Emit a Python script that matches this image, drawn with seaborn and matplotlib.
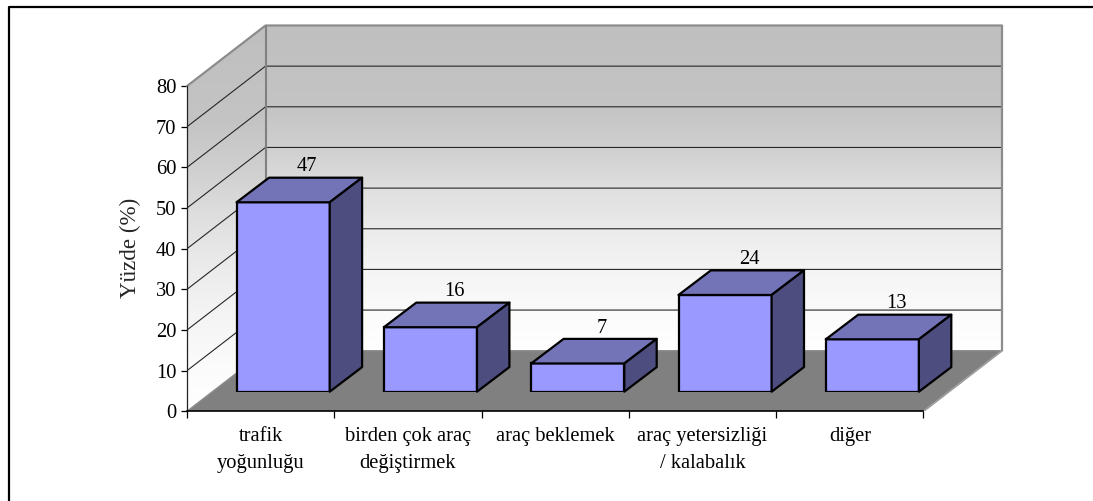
import numpy as np
import pandas as pd
import matplotlib
matplotlib.use("Agg")
import matplotlib.pyplot as plt
from matplotlib.lines import Line2D
from matplotlib.patches import Polygon
from matplotlib.colors import LinearSegmentedColormap
import seaborn as sns

categories = ["trafik\nyoğunluğu", "birden çok araç\ndeğiştirmek", "araç beklemek",
              "araç yetersizliği\n/ kalabalık", "diğer"]
values = [47, 16, 7, 24, 13]
value_ticks = [0, 10, 20, 30, 40, 50, 60, 70, 80]
y_label = "Yüzde (%)"

sns.set_theme(style="white")
plt.rcParams["font.family"] = ["Liberation Serif", "DejaVu Sans"]
plt.rcParams["text.color"] = "black"
plt.rcParams["xtick.color"] = "black"
plt.rcParams["ytick.color"] = "black"

W, H = 1093, 501
FS = 14.8
fig = plt.figure(figsize=(W / 100, H / 100), dpi=100, facecolor="white")

# pixel geometry of the frame
L, R, T, B = 187.0, 1002.0, 25.5, 411.3
cat_px = 147.3
unit_px = 4.06
wall_dx = (R - L) - 5 * cat_px
wall_dy_px = 60.5
dx = wall_dx / cat_px
dy = wall_dy_px / unit_px

ax = fig.add_axes([L / W, 1 - B / H, (R - L) / W, (B - T) / H])
ax.set_xlim(0, 5 + dx)
ax.set_ylim(0, 80 + dy)
ax.patch.set_alpha(0)

# walls and floor
cmap = LinearSegmentedColormap.from_list("wall", [
    (0.0, "#BFBFBF"), (0.25, "#C4C4C4"), (0.38, "#D0D0D0"), (0.5, "#DFDFDF"),
    (0.63, "#EBEBEB"), (0.75, "#F4F4F4"), (0.88, "#FBFBFB"), (1.0, "#FFFFFF")])
grad = np.linspace(0, 1, 256).reshape(-1, 1)
back = Polygon([(dx, dy), (5 + dx, dy), (5 + dx, 80 + dy), (dx, 80 + dy)], closed=True,
               fc="none", ec="none", transform=ax.transData)
side = Polygon([(0, 0), (dx, dy), (dx, 80 + dy), (0, 80)], closed=True,
               fc="none", ec="none", transform=ax.transData)
ax.add_patch(back)
ax.add_patch(side)
im_b = ax.imshow(grad, cmap=cmap, aspect="auto", extent=(dx, 5 + dx, dy, 80 + dy), origin="upper", zorder=1)
im_b.set_clip_path(back)
im_s = ax.imshow(grad, cmap=cmap, aspect="auto", extent=(0, dx, 0, 80 + dy), origin="upper", zorder=1)
im_s.set_clip_path(side)
ax.set_xlim(0, 5 + dx)
ax.set_ylim(0, 80 + dy)

ax.add_patch(Polygon([(0, 0), (5, 0), (5 + dx, dy), (dx, dy)], closed=True,
                     fc="#808080", ec="#8C8C8C", lw=1.0, zorder=2))

for v in value_ticks[1:-1]:
    ax.plot([0, dx, 5 + dx], [v, v + dy, v + dy], color="#262626", lw=0.8, zorder=3)
ax.plot([0, dx, 5 + dx, 5 + dx], [80, 80 + dy, 80 + dy, dy], color="#8C8C8C", lw=1.6, zorder=3, clip_on=False)
ax.plot([dx, dx], [dy, 80 + dy], color="#808080", lw=1.5, zorder=3)
ax.plot([5 + dx, 5], [dy, 0], color="#A0A0A0", lw=1.2, zorder=3)

for s in ["top", "right"]:
    ax.spines[s].set_visible(False)
ax.spines["left"].set_bounds(0, 80)
ax.spines["bottom"].set_bounds(0, 5)
ax.spines["left"].set_color("#222222")
ax.spines["left"].set_linewidth(0.9)
ax.spines["bottom"].set_color("black")
ax.spines["bottom"].set_linewidth(1.2)
ax.spines["left"].set_zorder(6)
ax.spines["bottom"].set_zorder(6)

ax.set_yticks(value_ticks)
ax.set_yticklabels([str(v) for v in value_ticks], fontsize=FS)
ax.set_xticks(range(6))
ax.set_xticklabels([""] * 6)
ax.set_xticks(np.arange(5) + 0.5, minor=True)
ax.set_xticklabels(categories, minor=True, fontsize=FS, linespacing=1.56, va="top")
ax.tick_params(axis="y", which="major", length=4, width=0.9, left=True, pad=3.5)
ax.tick_params(axis="x", which="major", length=5, width=0.9, bottom=True)
ax.tick_params(axis="x", which="minor", length=0, pad=11.5)
ax.set_ylabel(y_label, fontsize=16.6, va="center")
ax.yaxis.set_label_coords((130 - L) / (R - L), (B - 248) / (B - T))

# bars: same scales, moved into the depth of the floor
bar_dx, bar_dy = 22.5, 19.6
bar_unit_px = 4.03
bx = fig.add_axes([(L + bar_dx) / W, 1 - (B - bar_dy) / H, (R - L) / W, (B - T) / H], zorder=5)
bx.patch.set_alpha(0)
df = pd.DataFrame({"kategori": categories, "yuzde": values})
sns.barplot(data=df, x="kategori", y="yuzde", ax=bx, color="#9999FF", saturation=1,
            width=0.632, edgecolor="black", linewidth=1.6, errorbar=None, zorder=4)
bx.set_xlim(-0.5, 4.5 + dx)
bx.set_ylim(0, (B - T) / bar_unit_px)
bx.axis("off")

off_x = 32.4 / cat_px
off_y = 24.6 / bar_unit_px
for bar, val in zip(bx.patches, values):
    x0, x1 = bar.get_x(), bar.get_x() + bar.get_width()
    bx.add_patch(Polygon([(x0, val), (x1, val), (x1 + off_x, val + off_y), (x0 + off_x, val + off_y)],
                         closed=True, fc="#7373B8", ec="black", lw=1.6, joinstyle="round", zorder=4, clip_on=False))
    bx.add_patch(Polygon([(x1, 0), (x1 + off_x, off_y), (x1 + off_x, val + off_y), (x1, val)],
                         closed=True, fc="#4D4D80", ec="black", lw=1.6, joinstyle="round", zorder=4, clip_on=False))
    bx.annotate(str(val), xy=((x0 + x1) / 2 + off_x, val + off_y), xytext=(-6, 1),
                textcoords="offset points", ha="center", va="bottom", fontsize=FS, zorder=7)

# chart-area border
fig.add_artist(Line2D([9 / W, 9 / W, 1], [0, 1 - 7 / H, 1 - 7 / H], color="black", lw=1.6,
                      transform=fig.transFigure))

fig.savefig("out.png", dpi=100, facecolor="white")
